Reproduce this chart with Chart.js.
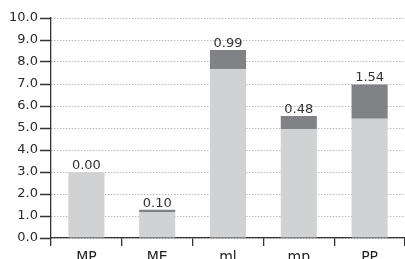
<!DOCTYPE html>
<html>
<head>
<meta charset="utf-8">
<script src="https://cdn.jsdelivr.net/npm/chart.js@4/dist/chart.umd.min.js"></script>
<style>
  html, body { margin: 0; padding: 0; background: #fff; overflow: hidden; }
  #wrap { width: 405px; height: 259px; }
</style>
</head>
<body>
<div id="wrap"><canvas id="barChart" width="405" height="259"></canvas></div>
<script>
// categories and values
const categories = ["MP", "ME", "ml", "mp", "PP"];
const baseValues = [3.0, 1.18, 7.67, 4.95, 5.42];
const topValues = [0.0, 0.10, 0.87, 0.59, 1.56];
const topLabels = ["0.00", "0.10", "0.99", "0.48", "1.54"];
const yTicks = [0, 1, 2, 3, 4, 5, 6, 7, 8, 9, 10];

const FONT = "'DejaVu Sans', sans-serif";

// labels above each stacked bar
const topLabelPlugin = {
  id: 'topLabels',
  afterDatasetsDraw(chart) {
    const meta = chart.getDatasetMeta(1);
    const ctx = chart.ctx;
    ctx.save();
    ctx.font = "13px " + FONT;
    ctx.fillStyle = "#333";
    ctx.textAlign = "center";
    ctx.textBaseline = "alphabetic";
    meta.data.forEach((bar, i) => {
      ctx.fillText(topLabels[i], bar.x, bar.y - 3);
    });
    ctx.restore();
  }
};

const ctx = document.getElementById('barChart').getContext('2d');
new Chart(ctx, {
  type: 'bar',
  data: {
    labels: categories,
    datasets: [
      { data: baseValues, backgroundColor: "#d1d2d4", barPercentage: 0.51, categoryPercentage: 1.0 },
      { data: topValues, backgroundColor: "#808285", barPercentage: 0.51, categoryPercentage: 1.0 }
    ]
  },
  options: {
    responsive: false,
    animation: false,
    events: [],
    layout: { padding: { top: 18, right: 0, left: 0, bottom: 0 } },
    plugins: {
      legend: { display: false },
      tooltip: { enabled: false }
    },
    scales: {
      x: {
        stacked: true,
        border: { display: true, color: "#333", width: 1.3 },
        grid: {
          offset: true,
          drawOnChartArea: false,
          drawTicks: true,
          tickLength: 8,
          color: "#333",
          lineWidth: 1.3
        },
        ticks: { color: "#222", font: { family: FONT, size: 14 }, padding: 3 },
        afterFit(scale) { scale.height = 21; }
      },
      y: {
        stacked: true,
        min: 0,
        max: 10,
        border: { display: true, color: "#333", width: 1.3, dash: [1, 2] },
        afterBuildTicks(scale) { scale.ticks = yTicks.map(v => ({ value: v })); },
        grid: {
          color: "#9a9a9a",
          lineWidth: 1,
          tickLength: 11,
          tickColor: "#333",
          tickWidth: 1.3,
          drawTicks: true,
          tickBorderDash: [1, 0]
        },
        ticks: {
          color: "#2a2a2a",
          padding: 2,
          font: { family: FONT, size: 13 },
          callback: v => v.toFixed(1)
        },
        afterFit(scale) { scale.width = 51; }
      }
    }
  },
  plugins: [topLabelPlugin]
});
</script>
</body>
</html>
